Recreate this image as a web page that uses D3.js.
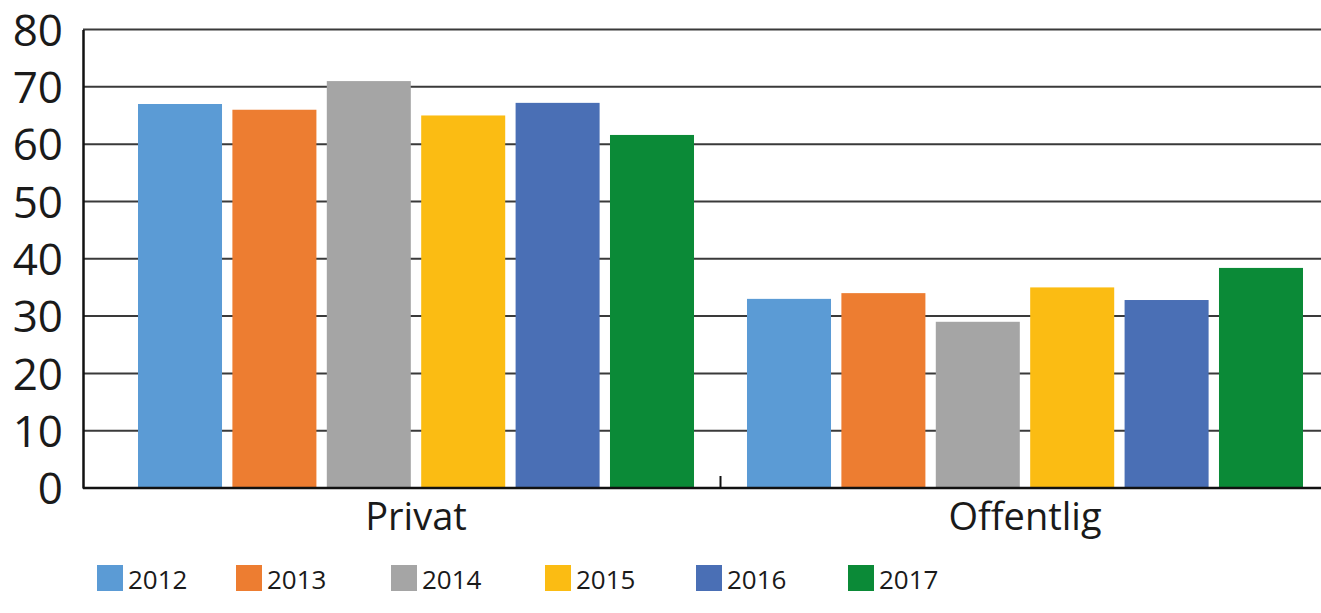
<!DOCTYPE html>
<html>
<head>
<meta charset="utf-8">
<script src="https://cdn.jsdelivr.net/npm/d3@7"></script>
<style>
  body { margin: 0; background: #fff; }
  text { font-family: "Open Sans", "Noto Sans", sans-serif; fill: #1a1a1a; }
</style>
</head>
<body>
<svg></svg>
<script>
var categories = ["Privat", "Offentlig"];
var years = ["2012", "2013", "2014", "2015", "2016", "2017"];
var privat = [67, 66, 71, 65, 67.2, 61.6];
var offentlig = [33, 34, 29, 35, 32.8, 38.4];
var yTicks = [0, 10, 20, 30, 40, 50, 60, 70, 80];
var colors = ["#5b9bd5", "#ed7d31", "#a5a5a5", "#fbbc13", "#4a6fb5", "#0b8a37"];

var screen = {width: 1321, height: 613};
var plot = {left: 83, right: 1321, top: 29.5, bottom: 488};

var svg = d3.select("svg")
  .attr("width", screen.width)
  .attr("height", screen.height);

var yScale = d3.scaleLinear().domain([0, 80]).range([plot.bottom, plot.top]);

var xScale = d3.scaleBand().domain(categories)
  .range([138, 1303]).paddingInner(0.087).paddingOuter(0);

var xInner = d3.scaleBand().domain(years)
  .range([0, xScale.bandwidth()]).paddingInner(0.11).paddingOuter(0);

// gridlines
svg.append("g").selectAll("line")
  .data(yTicks.slice(1))
  .enter().append("line")
  .attr("x1", plot.left).attr("x2", plot.right)
  .attr("y1", function(d){ return yScale(d); })
  .attr("y2", function(d){ return yScale(d); })
  .attr("stroke", "#3a3a3a").attr("stroke-width", 2);

var values = {Privat: privat, Offentlig: offentlig};

var groups = svg.append("g").selectAll("g")
  .data(categories)
  .enter().append("g")
  .attr("transform", function(d){ return "translate(" + xScale(d) + ",0)"; });

groups.selectAll("rect")
  .data(function(c){ return years.map(function(y, i){ return {year: y, value: values[c][i], i: i}; }); })
  .enter().append("rect")
  .attr("x", function(d){ return xInner(d.year); })
  .attr("width", xInner.bandwidth())
  .attr("y", function(d){ return yScale(d.value); })
  .attr("height", function(d){ return yScale(0) - yScale(d.value); })
  .attr("fill", function(d){ return colors[d.i]; });

// y axis
var yAxis = d3.axisLeft(yScale).tickValues(yTicks).tickSize(0).tickPadding(20);
var yg = svg.append("g")
  .attr("transform", "translate(" + plot.left + ",0)")
  .call(yAxis);
yg.select(".domain").attr("stroke", "#111").attr("stroke-width", 2.5);
yg.selectAll("text").style("font-size", "44px").attr("fill", "#1a1a1a").attr("dy", "0.36em");

// x baseline and divider tick
svg.append("line")
  .attr("x1", plot.left).attr("x2", plot.right)
  .attr("y1", plot.bottom).attr("y2", plot.bottom)
  .attr("stroke", "#111").attr("stroke-width", 2.5);

var divider = (xScale("Privat") + xScale.bandwidth() + xScale("Offentlig")) / 2;
svg.append("line")
  .attr("x1", divider).attr("x2", divider)
  .attr("y1", plot.bottom).attr("y2", plot.bottom - 12)
  .attr("stroke", "#111").attr("stroke-width", 2);

svg.append("g").selectAll("text")
  .data(categories)
  .enter().append("text")
  .attr("x", function(d){ return xScale(d) + xScale.bandwidth() / 2; })
  .attr("y", 530)
  .attr("text-anchor", "middle")
  .style("font-size", "38px")
  .text(function(d){ return d; });

// legend
var legendX = [97, 236, 391, 545, 696, 848];
var legend = svg.append("g").selectAll("g")
  .data(years)
  .enter().append("g")
  .attr("transform", function(d, i){ return "translate(" + legendX[i] + ",565)"; });

legend.append("rect")
  .attr("width", 26).attr("height", 26)
  .attr("fill", function(d, i){ return colors[i]; });

legend.append("text")
  .attr("x", 31).attr("y", 24)
  .style("font-size", "26px")
  .text(function(d){ return d; });
</script>
</body>
</html>
